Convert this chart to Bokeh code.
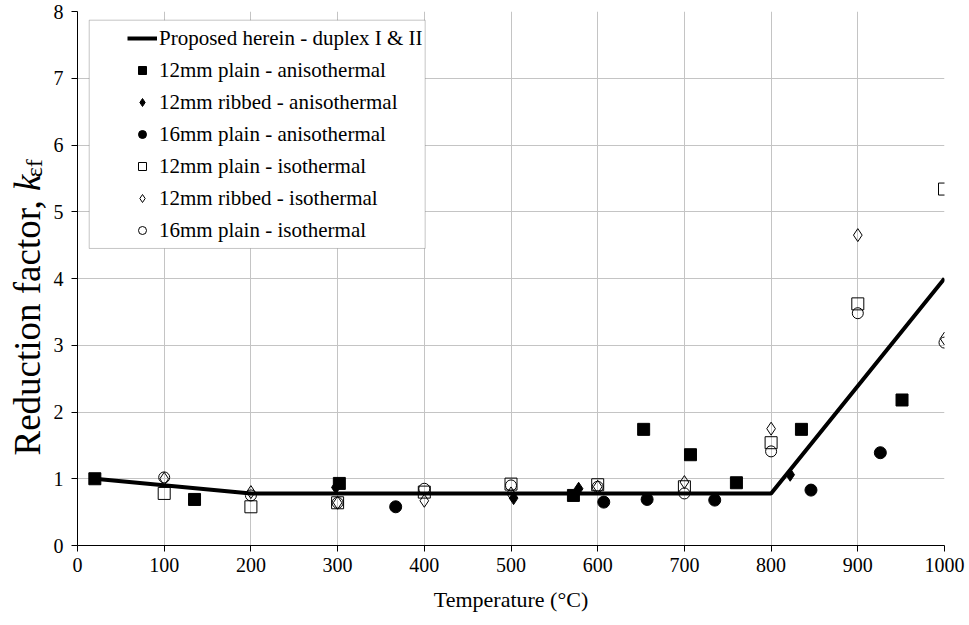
import math
from bokeh.plotting import figure
from bokeh.layouts import row
from bokeh.models import (Range1d, FixedTicker, Legend, LegendItem, BoxAnnotation, ColumnDataSource)
from bokeh.core.properties import value
from bokeh.embed import file_html
from bokeh.resources import INLINE

# ---- data ----
line_x = [20, 200, 800, 1000]
line_y = [1.0, 0.78, 0.78, 4.0]

sq_aniso_x = [20, 135, 302, 572, 653, 707, 760, 835, 951]
sq_aniso_y = [1.00, 0.69, 0.93, 0.75, 1.74, 1.36, 0.94, 1.74, 2.18]

dia_aniso_x = [298, 503, 578, 822]
dia_aniso_y = [0.87, 0.71, 0.85, 1.06]

circ_aniso_x = [367, 607, 657, 735, 846, 926]
circ_aniso_y = [0.58, 0.65, 0.69, 0.68, 0.83, 1.39]

iso_x = [100, 200, 300, 400, 500, 600, 700, 800, 900, 1000]
sq_iso_y = [0.78, 0.58, 0.64, 0.80, 0.92, 0.91, 0.88, 1.54, 3.62, 5.34]
dia_iso_y = [1.00, 0.80, 0.64, 0.67, 0.78, 0.88, 0.95, 1.75, 4.65, 3.10]
circ_iso_y = [1.02, 0.75, 0.64, 0.85, 0.90, 0.88, 0.78, 1.41, 3.48, 3.04]

x_ticks = list(range(0, 1001, 100))
y_ticks = list(range(0, 9))

labels = ["Proposed herein - duplex I & II",
          "12mm plain - anisothermal",
          "12mm ribbed - anisothermal",
          "16mm plain - anisothermal",
          "12mm plain - isothermal",
          "12mm ribbed - isothermal",
          "16mm plain - isothermal"]

ytitle_parts = ["Reduction factor, ", "k", "εf"]

FONT = "'Liberation Serif'"
LEFT_W = 48

p = figure(width=969 - LEFT_W, height=625, output_backend="svg", toolbar_location=None,
           x_range=Range1d(0, 1000), y_range=Range1d(0, 8),
           min_border_left=77 - LEFT_W, min_border_right=25, min_border_top=11, min_border_bottom=80)
p.outline_line_color = None
p.background_fill_color = "white"
p.border_fill_color = "white"

for ax in (p.xaxis[0], p.yaxis[0]):
    ax.axis_line_color = "black"
    ax.axis_line_width = 1
    ax.major_tick_line_color = "black"
    ax.minor_tick_line_color = None
    ax.major_tick_in = 0
    ax.major_tick_out = 6
    ax.major_label_text_font = FONT
    ax.major_label_text_font_size = "20px"
    ax.major_label_text_color = "black"
    ax.axis_label_text_font = FONT
    ax.axis_label_text_font_style = "normal"
    ax.axis_label_text_font_size = "22px"
    ax.axis_label_text_color = "black"

p.xaxis.ticker = FixedTicker(ticks=x_ticks)
p.yaxis.ticker = FixedTicker(ticks=y_ticks)
p.xaxis.major_label_standoff = 6
p.yaxis.major_label_standoff = 8
p.xaxis.axis_label = "Temperature (°C)"
p.xaxis.axis_label_standoff = 12

p.xgrid.ticker = FixedTicker(ticks=x_ticks)
p.ygrid.ticker = FixedTicker(ticks=y_ticks)
p.grid.grid_line_color = "#c4c4c4"
p.grid.grid_line_width = 1

r_line = p.line(line_x, line_y, line_color="black", line_width=4)

r_sq_a = p.scatter(sq_aniso_x, sq_aniso_y, marker="square", size=12,
                   fill_color="black", line_color="black")
r_dia_a = p.scatter(dia_aniso_x, dia_aniso_y, marker="diamond", size=13,
                    fill_color="black", line_color="black")
r_circ_a = p.scatter(circ_aniso_x, circ_aniso_y, marker="circle", size=12,
                     fill_color="black", line_color="black")
r_sq_i = p.scatter(iso_x, sq_iso_y, marker="square", size=12,
                   fill_alpha=0, line_color="black", line_width=1)
r_dia_i = p.scatter(iso_x, dia_iso_y, marker="diamond", size=13,
                    fill_alpha=0, line_color="black", line_width=1)
r_circ_i = p.scatter(iso_x, circ_iso_y, marker="circle", size=11,
                     fill_alpha=0, line_color="black", line_width=1)

# legend frame
box = BoxAnnotation(left=13.5, right=401, top=7.87, bottom=4.45,
                    fill_color="white", fill_alpha=1, line_color="#404040", line_width=1,
                    level="underlay")
p.add_layout(box)

renderers = [r_line, r_sq_a, r_dia_a, r_circ_a, r_sq_i, r_dia_i, r_circ_i]
legend = Legend(items=[LegendItem(label=l, renderers=[r]) for l, r in zip(labels, renderers)],
                location=(44, 293), orientation="vertical",
                padding=6, spacing=0, margin=0,
                label_height=32, glyph_height=20, glyph_width=30, label_standoff=2,
                label_text_font=FONT, label_text_font_size="21px", label_text_color="black",
                border_line_alpha=0, background_fill_alpha=0)
p.add_layout(legend, "center")

# ---- y-axis title panel (italic k with subscript) ----
q = figure(width=LEFT_W, height=625, output_backend="svg", toolbar_location=None,
           x_range=Range1d(0, LEFT_W), y_range=Range1d(625, 0),
           x_axis_type=None, y_axis_type=None,
           min_border_left=0, min_border_right=0, min_border_top=0, min_border_bottom=0)
q.outline_line_color = None
q.grid.visible = False
q.background_fill_color = "white"
q.border_fill_color = "white"
Y_K = 210      # where the italic k starts (px from top)
src_main = ColumnDataSource(dict(x=[27], y=[Y_K], t=[ytitle_parts[0]]))
src_k = ColumnDataSource(dict(x=[27], y=[Y_K], t=[ytitle_parts[1]]))
src_sub = ColumnDataSource(dict(x=[33], y=[Y_K - 16], t=[ytitle_parts[2]]))
q.text(x="x", y="y", text="t", source=src_main, angle=math.pi / 2,
       text_font=value(FONT), text_font_size="37px", text_color="black",
       text_align="right", text_baseline="alphabetic")
q.text(x="x", y="y", text="t", source=src_k, angle=math.pi / 2,
       text_font=value(FONT), text_font_size="37px", text_font_style="italic", text_color="black",
       text_align="left", text_baseline="alphabetic")
q.text(x="x", y="y", text="t", source=src_sub, angle=math.pi / 2,
       text_font=value(FONT), text_font_size="24px", text_color="black",
       text_align="left", text_baseline="alphabetic")

layout = row(q, p, spacing=0)
open("out.html", "w").write(file_html(layout, INLINE))
